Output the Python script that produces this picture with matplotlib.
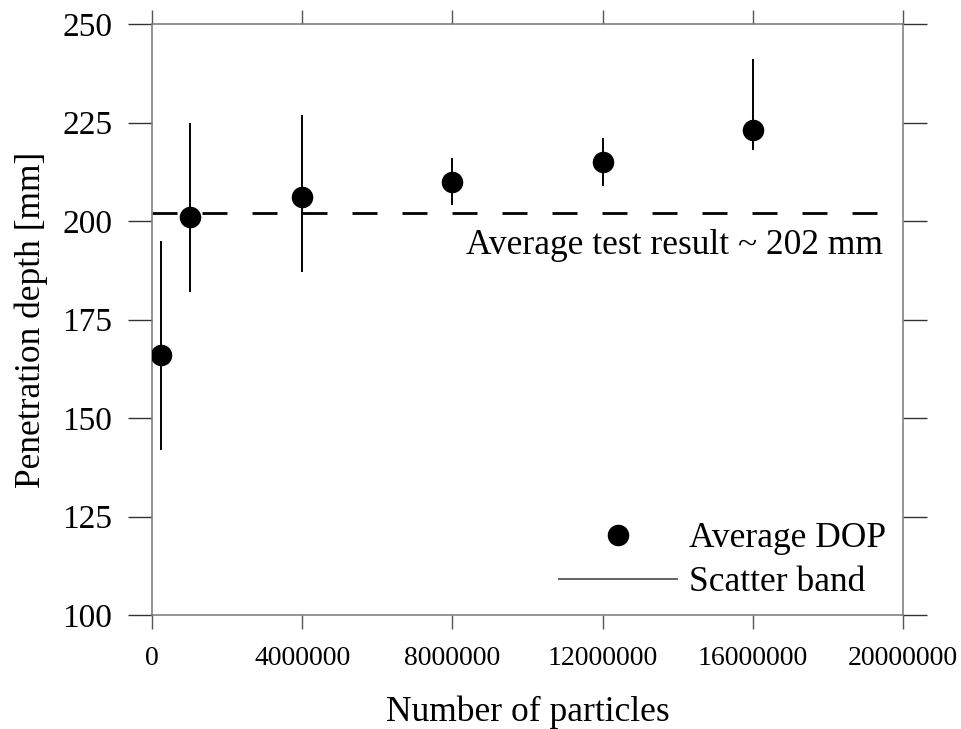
import numpy as np
import matplotlib.pyplot as plt

plt.rcParams['font.family'] = ['Liberation Serif', 'DejaVu Serif']

# particle counts and measured penetration depth (mean, scatter band limits)
particles = [250000, 1000000, 4000000, 8000000, 12000000, 16000000]
dop_mean = [166, 201, 206, 210, 215, 223]
dop_low = [142, 182, 187, 204, 209, 218]
dop_high = [195, 225, 227, 216, 221, 241]
test_avg = 202

x_ticks = [0, 4000000, 8000000, 12000000, 16000000, 20000000]
y_ticks = [100, 125, 150, 175, 200, 225, 250]

fig = plt.figure(figsize=(9.62, 7.29), dpi=100)
ax = fig.add_axes([152 / 962, 1 - 615 / 729, 751 / 962, 591 / 729])

mean = np.array(dop_mean)
yerr = [mean - np.array(dop_low), np.array(dop_high) - mean]

# scatter band
ax.errorbar(particles, dop_mean, yerr=yerr, fmt='none', ecolor='black',
            elinewidth=1.4, capsize=0, zorder=2)
# averages
ax.plot(particles, dop_mean, 'o', color='black', markersize=14.5, zorder=3)

# average test result
ax.plot([0, 19300000], [test_avg, test_avg], color='black', lw=2,
        dashes=(9, 9), zorder=1)
ax.text(19470000, 191.6, 'Average test result ~ %d mm' % test_avg,
        ha='right', va='baseline', fontsize=25.5)

ax.set_xlim(0, 20000000)
ax.set_ylim(100, 250)
ax.set_xticks(x_ticks)
ax.set_xticklabels([str(t) for t in x_ticks])
ax.set_yticks(y_ticks)

for s in ax.spines.values():
    s.set_color('#777777')
    s.set_linewidth(1.1)

ax.tick_params(axis='x', direction='out', length=10, width=1, color='#555555',
               top=True, labelsize=20, pad=12)
ax.tick_params(axis='y', direction='out', length=17.5, width=1, color='#333333',
               right=True, labelsize=24, pad=11)

ax.set_xlabel('Number of particles', fontsize=25.5, labelpad=18)
ax.set_ylabel('Penetration depth [mm]', fontsize=25.5, labelpad=10)

h_dot, = ax.plot([], [], 'o', color='black', markersize=14.5)
h_line, = ax.plot([], [], '-', color='#555555', lw=1.3)
ax.legend([h_dot, h_line], ['Average DOP', 'Scatter band'], loc='lower right',
          bbox_to_anchor=(0.978, 0.027), frameon=False, fontsize=25.5,
          handlelength=3.33, handletextpad=0.34, labelspacing=0.3,
          borderpad=0, borderaxespad=0)

fig.savefig('out.png', dpi=100)
